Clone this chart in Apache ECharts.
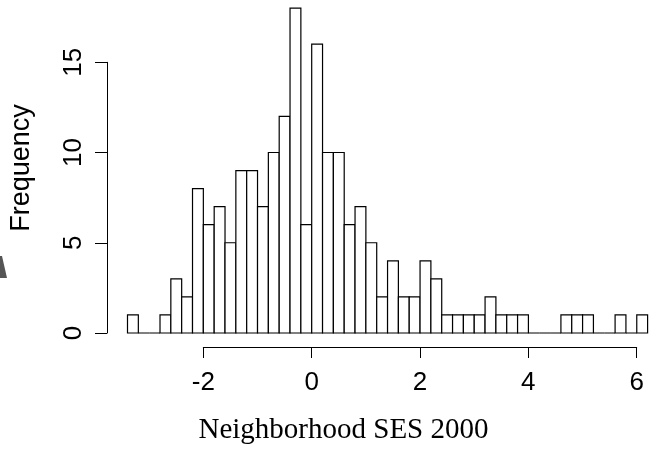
<!DOCTYPE html>
<html>
<head>
<meta charset="utf-8">
<script src="https://cdn.jsdelivr.net/npm/echarts@6/dist/echarts.min.js"></script>
<style>html,body{margin:0;padding:0;background:#fff;}#c{width:665px;height:454px;}</style>
</head>
<body>
<div id="c"></div>
<script>
// Histogram bin edges (left and right edges of each bin), bin width 0.2
var binLefts = [-3.4,-3.2,-3.0,-2.8,-2.6,-2.4,-2.2,-2.0,-1.8,-1.6,-1.4,-1.2,-1.0,-0.8,-0.6,-0.4,-0.2,0.0,0.2,0.4,0.6,0.8,1.0,1.2,1.4,1.6,1.8,2.0,2.2,2.4,2.6,2.8,3.0,3.2,3.4,3.6,3.8,4.0,4.2,4.4,4.6,4.8,5.0,5.2,5.4,5.6,5.8,6.0];
var binRights = [-3.2,-3.0,-2.8,-2.6,-2.4,-2.2,-2.0,-1.8,-1.6,-1.4,-1.2,-1.0,-0.8,-0.6,-0.4,-0.2,0.0,0.2,0.4,0.6,0.8,1.0,1.2,1.4,1.6,1.8,2.0,2.2,2.4,2.6,2.8,3.0,3.2,3.4,3.6,3.8,4.0,4.2,4.4,4.6,4.8,5.0,5.2,5.4,5.6,5.8,6.0,6.2];
var counts = [1,0,0,1,3,2,8,6,7,5,9,9,7,10,12,18,6,16,10,10,6,7,5,2,4,2,2,4,3,1,1,1,1,2,1,1,1,0,0,0,1,1,1,0,0,1,0,1];
var xTicks = [-2,0,2,4,6];
var yTicks = [0,5,10,15];
var xLabel = 'Neighborhood SES 2000';
var yLabel = 'Frequency';

var data = binLefts.map(function(l,i){ return [l, binRights[i], counts[i]]; });

var chart = echarts.init(document.getElementById('c'), null, {renderer:'canvas'});
var sans = 'Liberation Sans, Arial, sans-serif';
chart.setOption({
  animation:false,
  backgroundColor:'#fff',
  grid:[
    {left:127.5, width:520.1, top:8.1, height:324.9, containLabel:false},
    {left:203.3, width:433.4, top:8.1, height:338.9, containLabel:false},
    {left:107, width:500, top:62.3, height:270.7, containLabel:false}
  ],
  xAxis:[
    {gridIndex:0, type:'value', min:-3.4, max:6.2, show:false},
    {gridIndex:1, type:'value', min:xTicks[0], max:xTicks[xTicks.length-1], interval:2,
      axisLine:{show:true, lineStyle:{color:'#000', width:1}},
      axisTick:{show:true, length:11, lineStyle:{color:'#000', width:1}},
      axisLabel:{show:true, margin:23, fontSize:26, fontFamily:sans, color:'#000'},
      splitLine:{show:false}},
    {gridIndex:2, type:'value', min:0, max:1, show:false}
  ],
  yAxis:[
    {gridIndex:0, type:'value', min:0, max:18, show:false},
    {gridIndex:1, type:'value', min:0, max:1, show:false},
    {gridIndex:2, type:'value', min:yTicks[0], max:yTicks[yTicks.length-1], interval:5,
      axisLine:{show:true, lineStyle:{color:'#000', width:1}},
      axisTick:{show:true, length:12, lineStyle:{color:'#000', width:1}},
      axisLabel:{show:true, rotate:90, margin:20, fontSize:26, fontFamily:sans, color:'#000'},
      splitLine:{show:false}}
  ],
  graphic:[
    {type:'text', x:343.5, y:430, style:{text:xLabel, font:'29px "Liberation Serif", "Times New Roman", serif', fill:'#000', textAlign:'center', textVerticalAlign:'middle'}},
    {type:'text', rotation:Math.PI/2, x:22, y:168, style:{text:yLabel, font:'27px "Liberation Sans", Arial, sans-serif', fill:'#000', textAlign:'center', textVerticalAlign:'middle'}},
    {type:'polygon', shape:{points:[[0,256],[2,256],[7,278],[0,278]]}, style:{fill:'#555'}}
  ],
  series:[{
    type:'custom',
    xAxisIndex:0, yAxisIndex:0,
    encode:{x:[0,1], y:2},
    data:data,
    renderItem:function(params, api){
      var p0 = api.coord([api.value(0), api.value(2)]);
      var p1 = api.coord([api.value(1), 0]);
      return {type:'rect', shape:{x:p0[0], y:p0[1], width:p1[0]-p0[0], height:p1[1]-p0[1]},
        style:{fill:'#fff', stroke:'#000', lineWidth:1.2}};
    }
  }]
});
</script>
</body>
</html>
